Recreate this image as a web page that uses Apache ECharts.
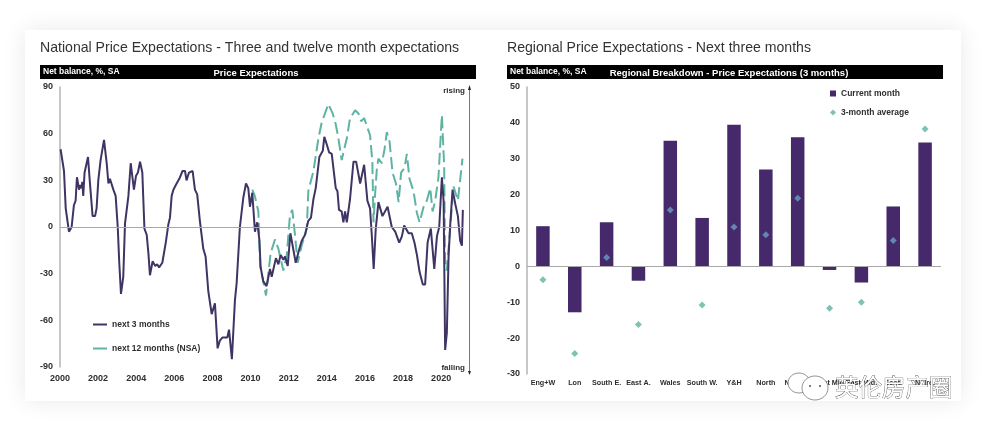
<!DOCTYPE html>
<html lang="en">
<head>
<meta charset="UTF-8" />
<title>Price Expectations</title>
<style>
  html, body { margin: 0; padding: 0; background: #fff; overflow: hidden; }
  #card {
    position: absolute; left: 25px; top: 30px; width: 936px; height: 371px;
    background: #fff; box-shadow: 0 0 22px rgba(0, 0, 0, 0.09);
  }
  #chart { position: absolute; left: 0; top: 0; width: 985px; height: 429px; }
</style>
</head>
<body>
<div id="card"></div>
<div id="chart"></div>
<script src="https://cdn.jsdelivr.net/npm/echarts@6/dist/echarts.min.js"></script>
<script>
// next 3 months
const threeMonthDates = [2000.03,2000.21,2000.3,2000.47,2000.61,2000.73,2000.82,2000.89,2001,2001.07,2001.12,2001.17,2001.22,2001.29,2001.38,2001.47,2001.56,2001.63,2001.71,2001.84,2001.92,2002.01,2002.13,2002.31,2002.45,2002.54,2002.62,2002.8,2002.92,2003.03,2003.11,2003.2,2003.32,2003.41,2003.59,2003.71,2003.88,2003.99,2004.09,2004.2,2004.32,2004.43,2004.55,2004.64,2004.72,2004.86,2004.99,2005.1,2005.2,2005.37,2005.55,2005.69,2005.77,2005.86,2005.95,2006.12,2006.26,2006.43,2006.56,2006.64,2006.77,2006.96,2007.08,2007.2,2007.34,2007.52,2007.64,2007.78,2007.96,2008.04,2008.13,2008.27,2008.39,2008.53,2008.78,2008.87,2009.02,2009.18,2009.27,2009.44,2009.62,2009.76,2009.88,2009.97,2010.09,2010.23,2010.35,2010.46,2010.53,2010.67,2010.84,2011.02,2011.11,2011.33,2011.46,2011.58,2011.72,2011.81,2011.95,2012.09,2012.19,2012.37,2012.54,2012.68,2012.86,2013.03,2013.17,2013.3,2013.42,2013.61,2013.79,2013.87,2014,2014.12,2014.26,2014.47,2014.56,2014.64,2014.78,2014.87,2014.96,2015.05,2015.22,2015.4,2015.54,2015.75,2015.96,2016.13,2016.27,2016.36,2016.46,2016.57,2016.71,2016.8,2016.92,2017.19,2017.41,2017.59,2017.8,2017.94,2018.06,2018.29,2018.46,2018.6,2018.73,2018.87,2019.04,2019.16,2019.29,2019.46,2019.64,2019.78,2019.9,2020.04,2020.13,2020.21,2020.3,2020.39,2020.48,2020.6,2020.74,2020.88,2021,2021.09,2021.14];
const threeMonthValues = [50,36,12,-3,0,14,17,32,24,27,25,29,20,35,35,45,30,29,7,7,12,30,43,56,41,28,31,24,20,0,-23,-43,-32,2,20,41,24,33,35,42,35,-1,-5,-17,-31,-22,-25,-24,-26,-23,-10,2,6,20,24,28,31,36,36,30,35,36,24,21,4,-14,-19,-41,-56,-57,-49,-78,-73,-71,-71,-66,-85,-47,-36,0,19,28,25,13,22,-3,3,-8,-26,-35,-38,-27,-32,-20,-24,-18,-21,-19,-25,-4,-5,-23,-15,-9,-5,4,6,18,25,45,49,58,53,48,47,25,23,11,10,3,10,3,18,42,42,28,40,17,12,-5,-27,-1,16,16,7,13,0,-3,-10,-6,1,-4,-4,-10,-18,-29,-37,-37,-10,-1,-27,-6,0,32,17,-79,-68,-19,2,24,15,7,-9,-12,11];

// next 12 months (NSA)
const twelveMonthDates = [2010.09,2010.22,2010.41,2010.5,2010.81,2011.05,2011.28,2011.46,2011.72,2011.9,2012.07,2012.19,2012.33,2012.47,2012.68,2012.95,2013.03,2013.3,2013.56,2013.73,2014.08,2014.31,2014.47,2014.61,2014.78,2015.05,2015.22,2015.49,2015.66,2015.8,2015.96,2016.27,2016.39,2016.45,2016.54,2016.63,2016.71,2016.89,2017.03,2017.15,2017.29,2017.45,2017.63,2017.77,2017.9,2018.08,2018.2,2018.34,2018.55,2018.73,2018.87,2019.08,2019.25,2019.43,2019.55,2019.69,2019.86,2020.04,2020.16,2020.21,2020.3,2020.48,2020.65,2020.88,2021.12];
const twelveMonthValues = [24,20,10,-25,-44,-17,-8,-14,-28,-18,8,11,-5,-23,-12,-1,23,36,57,67,79,73,66,57,43,57,70,75,73,68,70,59,42,3,22,38,44,41,50,61,55,35,28,16,35,38,47,31,23,9,3,13,17,25,10,17,32,72,39,-23,-28,0,26,17,44];

// regional breakdown, right panel
const regions = ['Eng+W','Lon','South E.','East A.','Wales','South W.','Y&H','North','N. West','West Mid.','East Mid.','Scot.','N. Ire.'];
const currentMonth = [11.2,-12.8,12.3,-4,35,13.5,39.5,27,36,-1,-4.5,16.7,34.5];
const threeMonthAvg = [-3.7,-24.3,2.5,-16.2,15.7,-10.8,11,8.8,19,-11.7,-10,7.2,38.3];

const FONT = '"Liberation Sans", Arial, sans-serif';
const PURPLE = '#3f3464';
const BAR = '#46296b';
const TEAL = '#5fb3a3';
const GREY = '#b5b5b5';
const INK = '#2e2e2e';

const zip = (a, b) => a.map((v, i) => [v, b[i]]);
const chart = echarts.init(document.getElementById('chart'));

const labelStyle = { fontFamily: FONT, fontSize: 9, fontWeight: 'bold', color: INK };
const legendText = { fontFamily: FONT, fontSize: 8.5, fontWeight: 'bold', color: INK };
const zeroLine = {
  silent: true, symbol: 'none', label: { show: false },
  lineStyle: { color: '#a8a8a8', width: 1, type: 'solid' },
  data: [{ yAxis: 0 }]
};

function headerBar(x, w, title, titleX) {
  return [
    { type: 'rect', shape: { x: x, y: 65, width: w, height: 14 }, style: { fill: '#000' } },
    { type: 'text', x: x + 3, y: 71.5, style: { text: 'Net balance, %, SA', fill: '#fff', font: 'bold 8.5px ' + FONT, verticalAlign: 'middle' } },
    { type: 'text', x: titleX, y: 73, style: { text: title, fill: '#fff', font: 'bold 9.5px ' + FONT, align: 'center', verticalAlign: 'middle' } }
  ];
}

chart.setOption({
  animation: false,
  textStyle: { fontFamily: FONT },
  title: [
    { text: 'National Price Expectations - Three and twelve month expectations', left: 35, top: 36, textStyle: { fontFamily: FONT, fontSize: 14.1, fontWeight: 'normal', color: '#333' } },
    { text: 'Regional Price Expectations - Next three months', left: 502, top: 36, textStyle: { fontFamily: FONT, fontSize: 14.1, fontWeight: 'normal', color: '#333' } }
  ],
  grid: [
    { left: 60, top: 87, width: 404, height: 280 },
    { left: 527, top: 87, width: 414, height: 287 }
  ],
  legend: [
    {
      left: 88, top: 315, orient: 'vertical', itemWidth: 14, itemHeight: 2, itemGap: 15,
      icon: 'rect', textStyle: legendText,
      data: [
        { name: 'next 3 months', itemStyle: { color: PURPLE } },
        { name: 'next 12 months (NSA)', itemStyle: { color: TEAL } }
      ]
    },
    {
      left: 825, top: 84, orient: 'vertical', itemWidth: 6, itemHeight: 6, itemGap: 10, textStyle: legendText,
      data: [
        { name: 'Current month', icon: 'rect', itemStyle: { color: BAR } },
        { name: '3-month average', icon: 'diamond', itemStyle: { color: TEAL } }
      ]
    }
  ],
  xAxis: [
    {
      type: 'value', gridIndex: 0, min: 2000, max: 2021.2, interval: 2,
      axisLine: { show: false }, axisTick: { show: false }, splitLine: { show: false },
      axisLabel: Object.assign({}, labelStyle, { margin: 7, showMaxLabel: false, formatter: v => String(v) })
    },
    {
      type: 'category', gridIndex: 1, data: regions,
      axisLine: { show: false }, axisTick: { show: false },
      axisLabel: Object.assign({}, labelStyle, { fontSize: 7.2, margin: 6, interval: 0 })
    }
  ],
  yAxis: [
    {
      type: 'value', gridIndex: 0, min: -90, max: 90, interval: 30,
      axisLine: { show: true, lineStyle: { color: GREY, width: 1.5 } }, axisTick: { show: false }, splitLine: { show: false },
      axisLabel: Object.assign({}, labelStyle, { margin: 7 })
    },
    {
      type: 'value', gridIndex: 1, min: -30, max: 50, interval: 10,
      axisLine: { show: true, lineStyle: { color: GREY, width: 1.5 } }, axisTick: { show: false }, splitLine: { show: false },
      axisLabel: Object.assign({}, labelStyle, { margin: 7 })
    }
  ],
  series: [
    {
      name: 'next 12 months (NSA)', type: 'line', xAxisIndex: 0, yAxisIndex: 0,
      data: zip(twelveMonthDates, twelveMonthValues), showSymbol: false, z: 2,
      lineStyle: { color: TEAL, width: 2, type: [12, 5] }, itemStyle: { color: TEAL },
      markLine: zeroLine
    },
    {
      name: 'next 3 months', type: 'line', xAxisIndex: 0, yAxisIndex: 0,
      data: zip(threeMonthDates, threeMonthValues), showSymbol: false, z: 3,
      lineStyle: { color: PURPLE, width: 2 }, itemStyle: { color: PURPLE }
    },
    {
      name: 'Current month', type: 'bar', xAxisIndex: 1, yAxisIndex: 1,
      data: currentMonth, barWidth: 13.5, itemStyle: { color: BAR }, markLine: zeroLine
    },
    {
      name: '3-month average', type: 'scatter', xAxisIndex: 1, yAxisIndex: 1,
      data: threeMonthAvg, symbol: 'diamond', symbolSize: 7, z: 4,
      itemStyle: {
        // markers sitting on a bar read as blue in the original
        color: p => {
          const bar = currentMonth[p.dataIndex];
          return p.value > Math.min(0, bar) && p.value < Math.max(0, bar) ? '#6b9cc6' : TEAL;
        }
      }
    }
  ],
  graphic: [
    ...headerBar(40, 436, 'Price Expectations', 256),
    ...headerBar(507, 436, 'Regional Breakdown - Price Expectations (3 months)', 729),
    { type: 'text', x: 465, y: 91, style: { text: 'rising', fill: INK, font: 'bold 8px ' + FONT, align: 'right', verticalAlign: 'middle' } },
    { type: 'text', x: 465, y: 368, style: { text: 'falling', fill: INK, font: 'bold 8px ' + FONT, align: 'right', verticalAlign: 'middle' } },
    { type: 'line', shape: { x1: 469.5, y1: 88, x2: 469.5, y2: 372 }, style: { stroke: '#777', lineWidth: 1 } },
    { type: 'polygon', shape: { points: [[469.5, 85], [468, 90], [471, 90]] }, style: { fill: '#222' } },
    { type: 'polygon', shape: { points: [[469.5, 375], [468, 371], [471, 371]] }, style: { fill: '#222' } },
    // watermark
    { type: 'ellipse', z: 20, shape: { cx: 799, cy: 383, rx: 11, ry: 10 }, style: { fill: '#fff', stroke: '#666', lineWidth: 0.7 } },
    { type: 'ellipse', z: 20, shape: { cx: 815, cy: 388, rx: 13, ry: 12 }, style: { fill: '#fff', stroke: '#666', lineWidth: 0.7 } },
    { type: 'circle', z: 20, shape: { cx: 810, cy: 386, r: 1 }, style: { fill: '#555' } },
    { type: 'circle', z: 20, shape: { cx: 820, cy: 386, r: 1 }, style: { fill: '#555' } },
    { type: 'text', z: 20, x: 835, y: 387, style: { text: '英伦房产圈', fill: '#fff', stroke: '#444', lineWidth: 0.7, font: '23.5px "Noto Sans CJK SC"', verticalAlign: 'middle' } }
  ]
});
</script>
</body>
</html>
